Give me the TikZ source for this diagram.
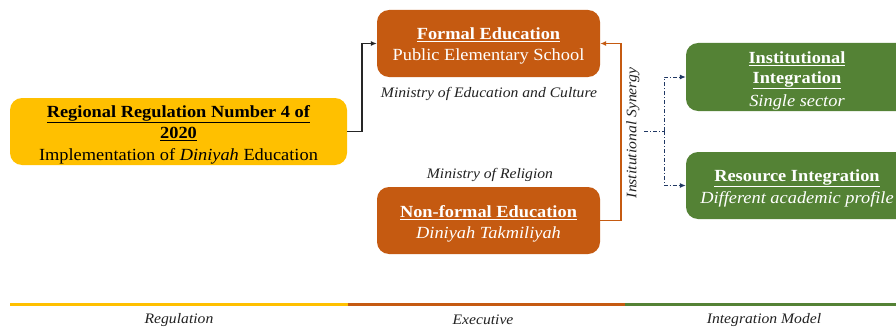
\documentclass[tikz,border=0pt]{standalone}
\usepackage{fontspec}
\setmainfont[FakeStretch=1.08]{Liberation Serif}
\usetikzlibrary{arrows.meta}
\definecolor{cyellow}{HTML}{FFC000}
\definecolor{corange}{HTML}{C55A11}
\definecolor{cgreen}{HTML}{548235}
\definecolor{cnavy}{HTML}{203864}
\definecolor{ctext}{HTML}{222222}
\tikzset{
  box/.style={rounded corners=12pt, inner sep=0pt, align=center},
  txt/.style={font=\fontsize{17}{21}\selectfont, align=center, inner sep=0pt},
  lab/.style={font=\fontsize{14.5}{17}\selectfont\itshape, inner sep=0pt, text=ctext},
  tip/.style={-{Latex[length=6pt,width=5pt]}},
}
\newcommand{\ul}[1]{\underline{\textbf{#1}}}
\begin{document}
\begin{tikzpicture}[x=1pt,y=-1pt]
\clip (0,0) rectangle (896,329);
\fill[white] (0,0) rectangle (896,329);
% boxes
\node[box, fill=cyellow, minimum width=337pt, minimum height=67pt] (reg) at (178.5,131.5) {};
\node[box, fill=corange, minimum width=223pt, minimum height=67pt] (formal) at (488.5,43.5) {};
\node[box, fill=corange, minimum width=223pt, minimum height=67pt] (nonformal) at (488.5,220.5) {};
\node[box, fill=cgreen, minimum width=230pt, minimum height=68pt] (g1) at (801,77) {};
\node[box, fill=cgreen, minimum width=230pt, minimum height=67pt] (g2) at (801,185.5) {};
% texts
\node[txt, text=black] (regt1) at (178.5,114) {\ul{Regional Regulation Number 4 of}};
\node[txt, text=black] (regt2) at (178.5,134) {\ul{2020}};
\node[txt, text=black] (regt3) at (178.5,156) {Implementation of \textit{Diniyah} Education};
\node[txt, text=white] (ft1) at (488.5,35) {\ul{Formal Education}};
\node[txt, text=white] (ft2) at (488.5,56) {Public Elementary School};
\node[txt, text=white] (nt1) at (488.5,213) {\ul{Non-formal Education}};
\node[txt, text=white] (nt2) at (488.5,234) {\textit{Diniyah Takmiliyah}};
\node[txt, text=white] (gt1) at (797,59) {\ul{Institutional}};
\node[txt, text=white] (gt2) at (797,80) {\ul{Integration}};
\node[txt, text=white] (gt3) at (797,102) {\textit{Single sector}};
\node[txt, text=white] (ht1) at (797,178) {\ul{Resource Integration}};
\node[txt, text=white] (ht2) at (797,199) {\textit{Different academic profile}};
% ministry labels
\node[lab] (moe) at (489,93.5) {Ministry of Education and Culture};
\node[lab] (mor) at (490,174.5) {Ministry of Religion};
\node[lab, rotate=90] (syn) at (633,133) {Institutional Synergy};
% connectors
\draw[tip, line width=1.5pt, black!85] (reg.east) -- ++(15,0) |- (formal.west);
\draw[tip, line width=1.5pt, corange] (nonformal.east) -- ++(21,0) |- (formal.east);
\coordinate (s0) at (644,131);
\coordinate (j) at (664,131);
\draw[cnavy, line width=1pt, dash pattern=on 4pt off 2pt on 1pt off 2pt] (s0) -- (j);
\draw[tip, cnavy, line width=1pt, dash pattern=on 4pt off 2pt on 1pt off 2pt] (j) |- (g1.west);
\draw[tip, cnavy, line width=1pt, dash pattern=on 4pt off 2pt on 1pt off 2pt] (j) |- (g2.west);
% bottom bars
\coordinate (b0) at (10,304);
\coordinate (b1) at (348,304);
\coordinate (b2) at (625,304);
\coordinate (b3) at (896,304);
\draw[cyellow, line width=3pt] (b0) -- (b1);
\draw[corange, line width=3pt] (b1) -- (b2);
\draw[cgreen, line width=3pt] (b2) -- (b3);
\node[lab] (l1) at (179,320) {Regulation};
\node[lab] (l2) at (483,320) {Executive};
\node[lab] (l3) at (764,320) {Integration Model};
\end{tikzpicture}
\end{document}
